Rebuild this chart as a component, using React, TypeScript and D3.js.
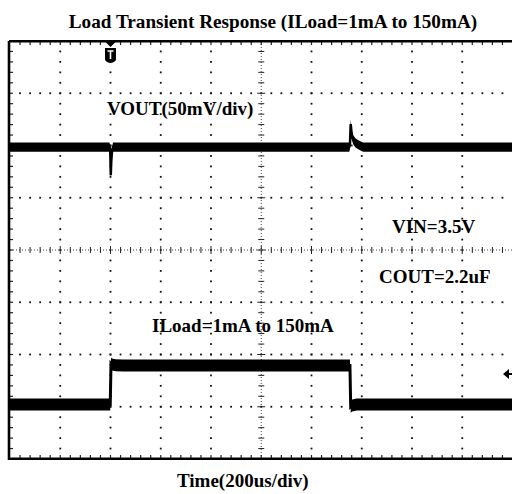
import React from "react";
import * as d3 from "d3";

const W = 512;
const H = 494;
const TIME_PER_DIV_US = 200;
const H_DIVS = 10;
const V_DIVS = 8;
const MINOR_PER_DIV = 5;

const TITLE = "Load Transient Response (ILoad=1mA to 150mA)";
const X_LABEL = "Time(200us/div)";
const CH1_LABEL = "VOUT(50mV/div)";
const CH2_LABEL = "ILoad=1mA to 150mA";
const NOTES = ["VIN=3.5V", "COUT=2.2uF"];

// Channel 1: VOUT deviation (mV), 50 mV/div
const VOUT_MV_PER_DIV = 50;
const VOUT_OFFSET_DIV = 1.97;
const VOUT_T = [0, 396, 399, 401, 403, 406, 410, 1350, 1353, 1356, 1360, 1366, 1375, 1388, 1405, 2000];
const VOUT_MV = [0, 0, -3, -27, -14, -4, 0, 0, 2, 22, 12, 7, 4, 2, 0, 0];

// Channel 2: load current (mA)
const ILOAD_MA_PER_DIV = 200;
const ILOAD_OFFSET_DIV = -2.96;
const ILOAD_T = [0, 399, 402, 406, 420, 450, 1353, 1356, 1362, 1380, 2000];
const ILOAD_MA = [1, 1, 158, 154, 151, 150, 150, -8, -3, 1, 1];

const FONT = "'Liberation Serif', 'Times New Roman', serif";

export default function App() {
  const x = d3.scaleLinear().domain([0, H_DIVS * TIME_PER_DIV_US]).range([10, 512.5]);
  const xd = d3.scaleLinear().domain([0, H_DIVS]).range([10, 512.5]);
  const yd = d3.scaleLinear().domain([-V_DIVS / 2, V_DIVS / 2]).range([459, 41]);

  const voutPts = VOUT_T.map((t, i) => [t, VOUT_OFFSET_DIV + VOUT_MV[i] / VOUT_MV_PER_DIV] as [number, number]);
  const iloadPts = ILOAD_T.map((t, i) => [t, ILOAD_OFFSET_DIV + ILOAD_MA[i] / ILOAD_MA_PER_DIV] as [number, number]);

  const line = d3.line<[number, number]>().x((d) => x(d[0])).y((d) => yd(d[1]));
  const band = (h: number) =>
    d3
      .area<[number, number]>()
      .x((d) => x(d[0]))
      .y0((d) => yd(d[1]) - h)
      .y1((d) => yd(d[1]) + h);

  const hMinor = d3.range(0, H_DIVS * MINOR_PER_DIV + 1).map((m) => m / MINOR_PER_DIV);
  const vMinor = d3.range(0, V_DIVS * MINOR_PER_DIV + 1).map((m) => m / MINOR_PER_DIV - V_DIVS / 2);
  const vMajors = d3.range(1, H_DIVS).filter((i) => i !== H_DIVS / 2);
  const hMajors = d3.range(-V_DIVS / 2 + 1, V_DIVS / 2).filter((k) => k !== 0);

  const dots: React.ReactNode[] = [];
  vMajors.forEach((i) => {
    vMinor.slice(1, -1).forEach((v, j) => {
      dots.push(<rect key={`v${i}-${j}`} x={xd(i) - 0.9} y={yd(v) - 0.9} width={1.8} height={1.8} fill="#111" />);
    });
  });
  hMajors.forEach((k) => {
    hMinor.slice(1, -1).forEach((h, j) => {
      dots.push(<rect key={`h${k}-${j}`} x={xd(h) - 0.9} y={yd(k) - 0.9} width={1.8} height={1.8} fill="#111" />);
    });
  });

  const cx = xd(H_DIVS / 2);
  const cy = yd(0);

  const ticks: React.ReactNode[] = [];
  vMinor.slice(1, -1).forEach((v, j) => {
    const major = Math.abs(v - Math.round(v)) < 1e-6;
    const len = major ? 4 : 3;
    ticks.push(<line key={`cv${j}`} x1={cx - len} x2={cx + len} y1={yd(v)} y2={yd(v)} stroke="#222" strokeWidth={1} />);
    ticks.push(<line key={`lb${j}`} x1={10} x2={13} y1={yd(v)} y2={yd(v)} stroke="#222" strokeWidth={1.2} />);
  });
  hMinor.slice(1, -1).forEach((h, j) => {
    const major = Math.abs(h - Math.round(h)) < 1e-6;
    const len = major ? 4 : 3;
    ticks.push(<line key={`ch${j}`} x1={xd(h)} x2={xd(h)} y1={cy - len} y2={cy + len} stroke="#222" strokeWidth={1} />);
    ticks.push(<line key={`tb${j}`} x1={xd(h)} x2={xd(h)} y1={42} y2={45} stroke="#222" strokeWidth={1.2} />);
    ticks.push(<line key={`bb${j}`} x1={xd(h)} x2={xd(h)} y1={455} y2={458} stroke="#222" strokeWidth={1.2} />);
  });

  const trigX = x(400);

  return (
    <svg width={W} height={H} style={{ position: "absolute", left: 0, top: 0, background: "#fff" }}>
      <rect x={0} y={0} width={W} height={H} fill="#fff" />
      <text x={273} y={28} textAnchor="middle" fontFamily={FONT} fontWeight="bold" fontSize={19.2} fill="#000">
        {TITLE}
      </text>

      {dots}
      <line x1={cx} x2={cx} y1={41} y2={459} stroke="#444" strokeWidth={1} strokeDasharray="1 2" />
      <line x1={10} x2={512} y1={cy} y2={cy} stroke="#444" strokeWidth={1} strokeDasharray="1 2" />
      {ticks}

      <path d={band(4.6)(voutPts) ?? ""} fill="#000" />
      <path d={line(voutPts) ?? ""} fill="none" stroke="#000" strokeWidth={2.5} />
      <path d={band(6)(iloadPts) ?? ""} fill="#000" />
      <path d={line(iloadPts) ?? ""} fill="none" stroke="#000" strokeWidth={3} />

      <path d={`M9,41.2 H515 M9,41 V459.5 M7.8,458.8 H515`} fill="none" stroke="#000" strokeWidth={2.6} />

      {/* trigger marker */}
      <path
        d={`M${trigX - 5},42 L${trigX + 5},42 L${trigX},47 Z M${trigX - 5.5},48 H${trigX + 5.5} V59 Q${trigX + 5.5},62 ${trigX},63 Q${trigX - 5.5},62 ${trigX - 5.5},59 Z`}
        fill="#000"
      />
      <path d={`M${trigX - 3},51 H${trigX + 3} M${trigX},51 V59`} stroke="#fff" strokeWidth={1.6} fill="none" />

      {/* ch2 ground arrow */}
      <path d={`M503,374 L509,369 L509,379 Z M508,373 H513 V375 H508 Z`} fill="#000" />

      <text x={107} y={115} fontFamily={FONT} fontWeight="bold" fontSize={19} fill="#000">
        {CH1_LABEL}
      </text>
      <text x={392} y={233} fontFamily={FONT} fontWeight="bold" fontSize={19} fill="#000">
        {NOTES[0]}
      </text>
      <text x={379} y={283} fontFamily={FONT} fontWeight="bold" fontSize={19} fill="#000">
        {NOTES[1]}
      </text>
      <text x={152} y={332} fontFamily={FONT} fontWeight="bold" fontSize={19} fill="#000">
        {CH2_LABEL}
      </text>
      <text x={177} y={487} fontFamily={FONT} fontWeight="bold" fontSize={19} fill="#000">
        {X_LABEL}
      </text>
    </svg>
  );
}
